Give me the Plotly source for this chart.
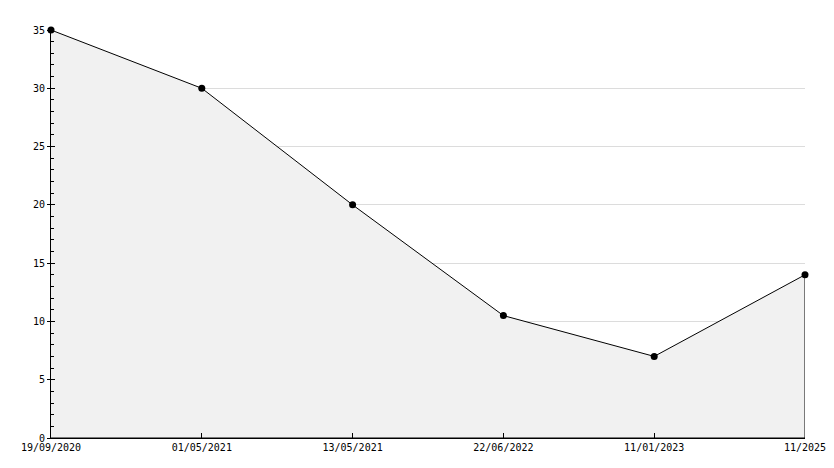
import plotly.graph_objects as go

dates = ["19/09/2020", "01/05/2021", "13/05/2021", "22/06/2022", "11/01/2023", "11/2025"]
values = [35, 30, 20, 10.5, 7, 14]
y_ticks = [0, 5, 10, 15, 20, 25, 30, 35]

xs = list(range(len(dates)))
font = dict(family="DejaVu Sans Mono", size=10, color="#000000")

fig = go.Figure()
# filled area polygon (closed down to zero)
fig.add_trace(go.Scatter(
    x=xs + [xs[-1], xs[0]], y=values + [0, 0],
    mode="lines", fill="toself", fillcolor="#f1f1f1",
    line=dict(color="#000000", width=1), hoverinfo="skip", showlegend=False,
    cliponaxis=False,
))
fig.add_trace(go.Scatter(
    x=xs, y=values, mode="markers",
    marker=dict(color="#000000", size=7, symbol="circle"),
    showlegend=False, cliponaxis=False,
))
# dummy trace for the inner-tick overlay axis
fig.add_trace(go.Scatter(x=[xs[0]], y=[0], yaxis="y2", mode="markers",
                         marker=dict(opacity=0), showlegend=False, hoverinfo="skip"))

# page body has an 8px default margin, so the figure is sized to compensate
fig.update_layout(
    width=826, height=460,
    margin=dict(l=43, r=29, t=22, b=30, autoexpand=False),
    paper_bgcolor="white", plot_bgcolor="white",
    font=font,
    xaxis=dict(
        range=[0, len(dates) - 1], tickvals=xs, ticktext=dates,
        showgrid=False, zeroline=False, automargin=False,
        ticklabeloverflow="allow",
        showline=True, linecolor="#000000", linewidth=1,
        ticks="inside", ticklen=5, tickcolor="#000000", tickwidth=1,
        tickfont=font,
    ),
    yaxis=dict(
        range=[0, 35], tickvals=y_ticks, automargin=False,
        showgrid=True, gridcolor="#dcdcdc", gridwidth=1, zeroline=False,
        showline=True, linecolor="#000000", linewidth=1,
        ticks="outside", ticklen=3, tickcolor="#000000", tickwidth=1,
        tickfont=font,
        minor=dict(dtick=1, ticks="inside", ticklen=3, tickcolor="#000000",
                   tickwidth=1, showgrid=False),
    ),
    yaxis2=dict(
        range=[0, 35], tickvals=y_ticks, overlaying="y", side="left",
        showgrid=False, zeroline=False, showticklabels=False, showline=False,
        automargin=False,
        ticks="inside", ticklen=4, tickcolor="#000000", tickwidth=1,
    ),
)

fig.write_html("out.html")
